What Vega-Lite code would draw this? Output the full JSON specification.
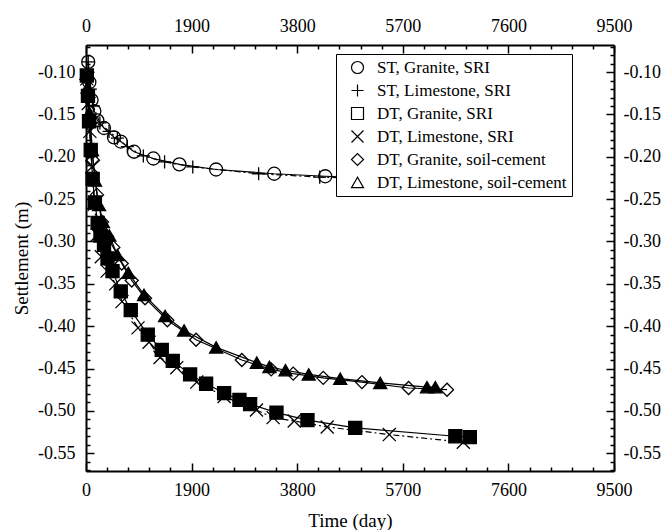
{
  "$schema": "https://vega.github.io/schema/vega-lite/v6.json",
  "autosize": {"type": "none"},
  "padding": {"left": 86, "top": 45, "right": 51, "bottom": 59},
  "width": 528,
  "height": 426,
  "background": "white",
  "config": {
    "font": "Liberation Serif",
    "view": {"stroke": null},
    "axis": {
      "grid": false,
      "domainColor": "black",
      "domainWidth": 2,
      "tickColor": "black",
      "tickWidth": 1.5,
      "labelFont": "Liberation Serif",
      "labelFontSize": 18,
      "labelColor": "black",
      "titleFont": "Liberation Serif",
      "titleFontSize": 19,
      "titleFontWeight": "normal",
      "titleColor": "black",
      "labelFlush": false,
      "labelOverlap": false
    },
    "legend": {
      "padding": 5,
      "rowPadding": 5,
      "symbolSize": 144,
      "symbolOffset": 8,
      "labelOffset": 11,
      "labelFont": "Liberation Serif",
      "labelFontSize": 17,
      "labelColor": "black",
      "labelLimit": 400,
      "strokeColor": "black",
      "fillColor": "white",
      "symbolStrokeColor": "black",
      "symbolStrokeWidth": 1.2,
      "symbolFillColor": "white"
    }
  },
  "data": {
    "values": [
      {"series": "ST, Granite, SRI", "day": 40, "s": -0.088},
      {"series": "ST, Granite, SRI", "day": 60, "s": -0.112},
      {"series": "ST, Granite, SRI", "day": 100, "s": -0.133},
      {"series": "ST, Granite, SRI", "day": 150, "s": -0.146},
      {"series": "ST, Granite, SRI", "day": 203, "s": -0.157},
      {"series": "ST, Granite, SRI", "day": 324, "s": -0.166},
      {"series": "ST, Granite, SRI", "day": 504, "s": -0.177},
      {"series": "ST, Granite, SRI", "day": 625, "s": -0.182},
      {"series": "ST, Granite, SRI", "day": 864, "s": -0.194},
      {"series": "ST, Granite, SRI", "day": 1212, "s": -0.202},
      {"series": "ST, Granite, SRI", "day": 1680, "s": -0.209},
      {"series": "ST, Granite, SRI", "day": 2341, "s": -0.215},
      {"series": "ST, Granite, SRI", "day": 3386, "s": -0.220},
      {"series": "ST, Granite, SRI", "day": 4304, "s": -0.223},
      {"series": "ST, Granite, SRI", "day": 5500, "s": -0.226},
      {"series": "ST, Granite, SRI", "day": 6800, "s": -0.228},
      {"series": "ST, Limestone, SRI", "day": 40, "s": -0.088},
      {"series": "ST, Limestone, SRI", "day": 80, "s": -0.120},
      {"series": "ST, Limestone, SRI", "day": 130, "s": -0.140},
      {"series": "ST, Limestone, SRI", "day": 250, "s": -0.160},
      {"series": "ST, Limestone, SRI", "day": 414, "s": -0.170},
      {"series": "ST, Limestone, SRI", "day": 564, "s": -0.178},
      {"series": "ST, Limestone, SRI", "day": 744, "s": -0.188},
      {"series": "ST, Limestone, SRI", "day": 1032, "s": -0.199},
      {"series": "ST, Limestone, SRI", "day": 1414, "s": -0.206},
      {"series": "ST, Limestone, SRI", "day": 1921, "s": -0.212},
      {"series": "ST, Limestone, SRI", "day": 3106, "s": -0.220},
      {"series": "ST, Limestone, SRI", "day": 4205, "s": -0.224},
      {"series": "ST, Limestone, SRI", "day": 5400, "s": -0.226},
      {"series": "ST, Limestone, SRI", "day": 6700, "s": -0.228},
      {"series": "DT, Granite, SRI", "day": 15, "s": -0.104},
      {"series": "DT, Granite, SRI", "day": 35, "s": -0.128},
      {"series": "DT, Granite, SRI", "day": 55, "s": -0.158},
      {"series": "DT, Granite, SRI", "day": 85, "s": -0.192},
      {"series": "DT, Granite, SRI", "day": 120, "s": -0.226},
      {"series": "DT, Granite, SRI", "day": 160, "s": -0.254},
      {"series": "DT, Granite, SRI", "day": 210, "s": -0.278},
      {"series": "DT, Granite, SRI", "day": 260, "s": -0.293},
      {"series": "DT, Granite, SRI", "day": 324, "s": -0.304},
      {"series": "DT, Granite, SRI", "day": 387, "s": -0.320},
      {"series": "DT, Granite, SRI", "day": 477, "s": -0.335},
      {"series": "DT, Granite, SRI", "day": 625, "s": -0.359},
      {"series": "DT, Granite, SRI", "day": 805, "s": -0.381},
      {"series": "DT, Granite, SRI", "day": 1111, "s": -0.410},
      {"series": "DT, Granite, SRI", "day": 1363, "s": -0.428},
      {"series": "DT, Granite, SRI", "day": 1561, "s": -0.441},
      {"series": "DT, Granite, SRI", "day": 1873, "s": -0.457},
      {"series": "DT, Granite, SRI", "day": 2161, "s": -0.468},
      {"series": "DT, Granite, SRI", "day": 2485, "s": -0.479},
      {"series": "DT, Granite, SRI", "day": 2761, "s": -0.487},
      {"series": "DT, Granite, SRI", "day": 2953, "s": -0.492},
      {"series": "DT, Granite, SRI", "day": 3427, "s": -0.502},
      {"series": "DT, Granite, SRI", "day": 3985, "s": -0.511},
      {"series": "DT, Granite, SRI", "day": 4844, "s": -0.520},
      {"series": "DT, Granite, SRI", "day": 6645, "s": -0.530},
      {"series": "DT, Granite, SRI", "day": 6906, "s": -0.531},
      {"series": "DT, Limestone, SRI", "day": 15, "s": -0.108},
      {"series": "DT, Limestone, SRI", "day": 40, "s": -0.137},
      {"series": "DT, Limestone, SRI", "day": 70, "s": -0.170},
      {"series": "DT, Limestone, SRI", "day": 105, "s": -0.212},
      {"series": "DT, Limestone, SRI", "day": 150, "s": -0.256},
      {"series": "DT, Limestone, SRI", "day": 205, "s": -0.292},
      {"series": "DT, Limestone, SRI", "day": 275, "s": -0.318},
      {"series": "DT, Limestone, SRI", "day": 380, "s": -0.335},
      {"series": "DT, Limestone, SRI", "day": 535, "s": -0.350},
      {"series": "DT, Limestone, SRI", "day": 648, "s": -0.371},
      {"series": "DT, Limestone, SRI", "day": 936, "s": -0.402},
      {"series": "DT, Limestone, SRI", "day": 1135, "s": -0.419},
      {"series": "DT, Limestone, SRI", "day": 1333, "s": -0.437},
      {"series": "DT, Limestone, SRI", "day": 1633, "s": -0.449},
      {"series": "DT, Limestone, SRI", "day": 1993, "s": -0.466},
      {"series": "DT, Limestone, SRI", "day": 2485, "s": -0.483},
      {"series": "DT, Limestone, SRI", "day": 3067, "s": -0.499},
      {"series": "DT, Limestone, SRI", "day": 3367, "s": -0.508},
      {"series": "DT, Limestone, SRI", "day": 3746, "s": -0.512},
      {"series": "DT, Limestone, SRI", "day": 4340, "s": -0.519},
      {"series": "DT, Limestone, SRI", "day": 5457, "s": -0.528},
      {"series": "DT, Limestone, SRI", "day": 6789, "s": -0.537},
      {"series": "DT, Granite, soil-cement", "day": 20, "s": -0.108},
      {"series": "DT, Granite, soil-cement", "day": 45, "s": -0.130},
      {"series": "DT, Granite, soil-cement", "day": 80, "s": -0.160},
      {"series": "DT, Granite, soil-cement", "day": 126, "s": -0.204},
      {"series": "DT, Granite, soil-cement", "day": 198, "s": -0.245},
      {"series": "DT, Granite, soil-cement", "day": 288, "s": -0.277},
      {"series": "DT, Granite, soil-cement", "day": 378, "s": -0.294},
      {"series": "DT, Granite, soil-cement", "day": 492, "s": -0.307},
      {"series": "DT, Granite, soil-cement", "day": 643, "s": -0.326},
      {"series": "DT, Granite, soil-cement", "day": 823, "s": -0.346},
      {"series": "DT, Granite, soil-cement", "day": 1062, "s": -0.367},
      {"series": "DT, Granite, soil-cement", "day": 1464, "s": -0.393},
      {"series": "DT, Granite, soil-cement", "day": 1981, "s": -0.416},
      {"series": "DT, Granite, soil-cement", "day": 2804, "s": -0.440},
      {"series": "DT, Granite, soil-cement", "day": 3332, "s": -0.451},
      {"series": "DT, Granite, soil-cement", "day": 3728, "s": -0.456},
      {"series": "DT, Granite, soil-cement", "day": 4268, "s": -0.461},
      {"series": "DT, Granite, soil-cement", "day": 4965, "s": -0.466},
      {"series": "DT, Granite, soil-cement", "day": 5804, "s": -0.473},
      {"series": "DT, Granite, soil-cement", "day": 6496, "s": -0.475},
      {"series": "DT, Limestone, soil-cement", "day": 10, "s": -0.102},
      {"series": "DT, Limestone, soil-cement", "day": 30, "s": -0.118},
      {"series": "DT, Limestone, soil-cement", "day": 60, "s": -0.148},
      {"series": "DT, Limestone, soil-cement", "day": 108, "s": -0.192},
      {"series": "DT, Limestone, soil-cement", "day": 162, "s": -0.228},
      {"series": "DT, Limestone, soil-cement", "day": 234, "s": -0.257},
      {"series": "DT, Limestone, soil-cement", "day": 306, "s": -0.277},
      {"series": "DT, Limestone, soil-cement", "day": 420, "s": -0.293},
      {"series": "DT, Limestone, soil-cement", "day": 564, "s": -0.316},
      {"series": "DT, Limestone, soil-cement", "day": 762, "s": -0.337},
      {"series": "DT, Limestone, soil-cement", "day": 1044, "s": -0.363},
      {"series": "DT, Limestone, soil-cement", "day": 1423, "s": -0.388},
      {"series": "DT, Limestone, soil-cement", "day": 1765, "s": -0.405},
      {"series": "DT, Limestone, soil-cement", "day": 2341, "s": -0.425},
      {"series": "DT, Limestone, soil-cement", "day": 3074, "s": -0.443},
      {"series": "DT, Limestone, soil-cement", "day": 3301, "s": -0.448},
      {"series": "DT, Limestone, soil-cement", "day": 3589, "s": -0.452},
      {"series": "DT, Limestone, soil-cement", "day": 4007, "s": -0.457},
      {"series": "DT, Limestone, soil-cement", "day": 4574, "s": -0.462},
      {"series": "DT, Limestone, soil-cement", "day": 5294, "s": -0.467},
      {"series": "DT, Limestone, soil-cement", "day": 6135, "s": -0.472},
      {"series": "DT, Limestone, soil-cement", "day": 6285, "s": -0.472}
    ]
  },
  "layer": [
    {
      "transform": [{"filter": "datum.series !== 'ST, Limestone, SRI' && datum.series !== 'DT, Limestone, SRI'"}],
      "mark": {"type": "line", "color": "black", "strokeWidth": 1.2},
      "encoding": {
        "x": {
          "field": "day", "type": "quantitative",
          "scale": {"domain": [0, 9500], "nice": false, "zero": false},
          "axis": {
            "orient": "bottom",
            "title": "Time (day)",
            "titlePadding": 8,
            "values": [0, 380, 760, 1140, 1520, 1900, 2280, 2660, 3040, 3420, 3800, 4180, 4560, 4940, 5320, 5700, 6080, 6460, 6840, 7220, 7600, 7980, 8360, 8740, 9120, 9500],
            "format": "d",
            "labelExpr": "datum.value % 1900 === 0 ? datum.label : ''",
            "tickSize": {"condition": {"test": "datum.value % 1900 === 0", "value": -8}, "value": -4},
            "labelPadding": 18
          }
        },
        "y": {
          "field": "s", "type": "quantitative",
          "scale": {"domain": [-0.571, -0.068], "nice": false, "zero": false},
          "axis": {
            "orient": "left",
            "title": "Settlement (m)",
            "titlePadding": 6,
            "values": [-0.57, -0.56, -0.55, -0.54, -0.53, -0.52, -0.51, -0.5, -0.49, -0.48, -0.47, -0.46, -0.45, -0.44, -0.43, -0.42, -0.41, -0.4, -0.39, -0.38, -0.37, -0.36, -0.35, -0.34, -0.33, -0.32, -0.31, -0.3, -0.29, -0.28, -0.27, -0.26, -0.25, -0.24, -0.23, -0.22, -0.21, -0.2, -0.19, -0.18, -0.17, -0.16, -0.15, -0.14, -0.13, -0.12, -0.11, -0.1, -0.09, -0.08, -0.07],
            "labelExpr": "abs(round(datum.value * 100)) % 5 === 0 ? '-' + format(abs(datum.value), '.2f') : ''",
            "tickSize": {"condition": {"test": "abs(round(datum.value * 100)) % 5 === 0", "value": -8}, "value": -4},
            "labelPadding": 19
          }
        },
        "detail": {"field": "series", "type": "nominal"}
      }
    },
    {
      "transform": [{"filter": "datum.series === 'ST, Limestone, SRI' || datum.series === 'DT, Limestone, SRI'"}],
      "mark": {"type": "line", "color": "black", "strokeWidth": 1.2, "strokeDash": [6, 3, 2, 3]},
      "encoding": {
        "x": {"field": "day", "type": "quantitative", "scale": {"domain": [0, 9500], "nice": false, "zero": false}, "axis": null},
        "y": {"field": "s", "type": "quantitative", "scale": {"domain": [-0.571, -0.068], "nice": false, "zero": false}, "axis": null},
        "detail": {"field": "series", "type": "nominal"}
      }
    },
    {
      "transform": [{"filter": "datum.series !== 'DT, Granite, SRI' && datum.series !== 'DT, Limestone, soil-cement'"}],
      "mark": {"type": "point", "filled": false, "color": "black", "strokeWidth": 1.3, "opacity": 1, "size": 170},
      "encoding": {
        "x": {
          "field": "day", "type": "quantitative",
          "scale": {"domain": [0, 9500], "nice": false, "zero": false},
          "axis": {
            "orient": "top",
            "title": null,
            "values": [0, 380, 760, 1140, 1520, 1900, 2280, 2660, 3040, 3420, 3800, 4180, 4560, 4940, 5320, 5700, 6080, 6460, 6840, 7220, 7600, 7980, 8360, 8740, 9120, 9500],
            "format": "d",
            "labelExpr": "datum.value % 1900 === 0 ? datum.label : ''",
            "tickSize": {"condition": {"test": "datum.value % 1900 === 0", "value": -8}, "value": -4},
            "labelPadding": 18
          }
        },
        "y": {
          "field": "s", "type": "quantitative",
          "scale": {"domain": [-0.571, -0.068], "nice": false, "zero": false},
          "axis": {
            "orient": "right",
            "title": null,
            "values": [-0.57, -0.56, -0.55, -0.54, -0.53, -0.52, -0.51, -0.5, -0.49, -0.48, -0.47, -0.46, -0.45, -0.44, -0.43, -0.42, -0.41, -0.4, -0.39, -0.38, -0.37, -0.36, -0.35, -0.34, -0.33, -0.32, -0.31, -0.3, -0.29, -0.28, -0.27, -0.26, -0.25, -0.24, -0.23, -0.22, -0.21, -0.2, -0.19, -0.18, -0.17, -0.16, -0.15, -0.14, -0.13, -0.12, -0.11, -0.1, -0.09, -0.08, -0.07],
            "labelExpr": "abs(round(datum.value * 100)) % 5 === 0 ? '-' + format(abs(datum.value), '.2f') : ''",
            "tickSize": {"condition": {"test": "abs(round(datum.value * 100)) % 5 === 0", "value": -8}, "value": -4},
            "labelPadding": 17
          }
        },
        "shape": {
          "field": "series", "type": "nominal",
          "scale": {
            "domain": ["ST, Granite, SRI", "ST, Limestone, SRI", "DT, Granite, SRI", "DT, Limestone, SRI", "DT, Granite, soil-cement", "DT, Limestone, soil-cement"],
            "range": ["circle", "M-1,0L1,0M0,-1L0,1", "square", "M-1,-1L1,1M-1,1L1,-1", "diamond", "triangle-up"]
          },
          "legend": {
            "title": null,
            "orient": "none",
            "legendX": 250,
            "legendY": 9
          }
        }
      }
    },
    {
      "transform": [{"filter": "datum.series === 'DT, Granite, SRI' || datum.series === 'DT, Limestone, soil-cement'"}],
      "mark": {"type": "point", "filled": false, "color": "black", "strokeWidth": 1.3, "opacity": 1, "size": 170, "fill": "black"},
      "encoding": {
        "x": {"field": "day", "type": "quantitative", "scale": {"domain": [0, 9500], "nice": false, "zero": false}, "axis": null},
        "y": {"field": "s", "type": "quantitative", "scale": {"domain": [-0.571, -0.068], "nice": false, "zero": false}, "axis": null},
        "shape": {
          "field": "series", "type": "nominal",
          "scale": {
            "domain": ["ST, Granite, SRI", "ST, Limestone, SRI", "DT, Granite, SRI", "DT, Limestone, SRI", "DT, Granite, soil-cement", "DT, Limestone, soil-cement"],
            "range": ["circle", "M-1,0L1,0M0,-1L0,1", "square", "M-1,-1L1,1M-1,1L1,-1", "diamond", "triangle-up"]
          },
          "legend": {
            "title": null,
            "orient": "none",
            "legendX": 250,
            "legendY": 9
          }
        }
      }
    }
  ],
  "resolve": {"axis": {"x": "independent", "y": "independent"}}
}
